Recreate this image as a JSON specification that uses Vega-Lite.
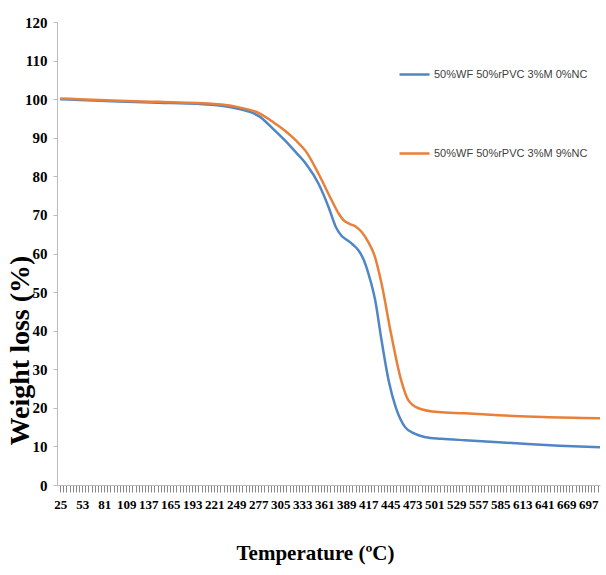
{
  "$schema": "https://vega.github.io/schema/vega-lite/v6.json",
  "width": 543,
  "height": 463,
  "autosize": {"type": "none"},
  "padding": {"left": 57, "top": 22, "right": 6, "bottom": 90},
  "background": "white",
  "config": {"view": {"stroke": null}},
  "data": {"values": [
    {"t": 25, "w": 100, "s": "50%WF 50%rPVC 3%M 0%NC"},
    {"t": 50, "w": 99.8, "s": "50%WF 50%rPVC 3%M 0%NC"},
    {"t": 100, "w": 99.4, "s": "50%WF 50%rPVC 3%M 0%NC"},
    {"t": 150, "w": 99.1, "s": "50%WF 50%rPVC 3%M 0%NC"},
    {"t": 200, "w": 98.8, "s": "50%WF 50%rPVC 3%M 0%NC"},
    {"t": 230, "w": 98.3, "s": "50%WF 50%rPVC 3%M 0%NC"},
    {"t": 250, "w": 97.6, "s": "50%WF 50%rPVC 3%M 0%NC"},
    {"t": 265, "w": 96.8, "s": "50%WF 50%rPVC 3%M 0%NC"},
    {"t": 278, "w": 95.6, "s": "50%WF 50%rPVC 3%M 0%NC"},
    {"t": 295, "w": 92.5, "s": "50%WF 50%rPVC 3%M 0%NC"},
    {"t": 312, "w": 89.1, "s": "50%WF 50%rPVC 3%M 0%NC"},
    {"t": 325, "w": 86.2, "s": "50%WF 50%rPVC 3%M 0%NC"},
    {"t": 338, "w": 83.2, "s": "50%WF 50%rPVC 3%M 0%NC"},
    {"t": 354, "w": 78, "s": "50%WF 50%rPVC 3%M 0%NC"},
    {"t": 367, "w": 71.8, "s": "50%WF 50%rPVC 3%M 0%NC"},
    {"t": 376, "w": 66.8, "s": "50%WF 50%rPVC 3%M 0%NC"},
    {"t": 383, "w": 64.6, "s": "50%WF 50%rPVC 3%M 0%NC"},
    {"t": 390, "w": 63.5, "s": "50%WF 50%rPVC 3%M 0%NC"},
    {"t": 397, "w": 62.4, "s": "50%WF 50%rPVC 3%M 0%NC"},
    {"t": 405, "w": 60.7, "s": "50%WF 50%rPVC 3%M 0%NC"},
    {"t": 411, "w": 58.5, "s": "50%WF 50%rPVC 3%M 0%NC"},
    {"t": 417, "w": 55, "s": "50%WF 50%rPVC 3%M 0%NC"},
    {"t": 426, "w": 47.8, "s": "50%WF 50%rPVC 3%M 0%NC"},
    {"t": 434, "w": 37.5, "s": "50%WF 50%rPVC 3%M 0%NC"},
    {"t": 443, "w": 27.1, "s": "50%WF 50%rPVC 3%M 0%NC"},
    {"t": 452, "w": 20.2, "s": "50%WF 50%rPVC 3%M 0%NC"},
    {"t": 464, "w": 15, "s": "50%WF 50%rPVC 3%M 0%NC"},
    {"t": 476, "w": 13.3, "s": "50%WF 50%rPVC 3%M 0%NC"},
    {"t": 490, "w": 12.4, "s": "50%WF 50%rPVC 3%M 0%NC"},
    {"t": 510, "w": 12, "s": "50%WF 50%rPVC 3%M 0%NC"},
    {"t": 540, "w": 11.6, "s": "50%WF 50%rPVC 3%M 0%NC"},
    {"t": 583, "w": 11.1, "s": "50%WF 50%rPVC 3%M 0%NC"},
    {"t": 620, "w": 10.6, "s": "50%WF 50%rPVC 3%M 0%NC"},
    {"t": 660, "w": 10.2, "s": "50%WF 50%rPVC 3%M 0%NC"},
    {"t": 712, "w": 9.8, "s": "50%WF 50%rPVC 3%M 0%NC"},
    {"t": 25, "w": 100.2, "s": "50%WF 50%rPVC 3%M 9%NC"},
    {"t": 50, "w": 100, "s": "50%WF 50%rPVC 3%M 9%NC"},
    {"t": 100, "w": 99.6, "s": "50%WF 50%rPVC 3%M 9%NC"},
    {"t": 150, "w": 99.3, "s": "50%WF 50%rPVC 3%M 9%NC"},
    {"t": 200, "w": 99, "s": "50%WF 50%rPVC 3%M 9%NC"},
    {"t": 230, "w": 98.6, "s": "50%WF 50%rPVC 3%M 9%NC"},
    {"t": 250, "w": 98, "s": "50%WF 50%rPVC 3%M 9%NC"},
    {"t": 265, "w": 97.3, "s": "50%WF 50%rPVC 3%M 9%NC"},
    {"t": 278, "w": 96.4, "s": "50%WF 50%rPVC 3%M 9%NC"},
    {"t": 295, "w": 94.2, "s": "50%WF 50%rPVC 3%M 9%NC"},
    {"t": 312, "w": 91.7, "s": "50%WF 50%rPVC 3%M 9%NC"},
    {"t": 325, "w": 89.3, "s": "50%WF 50%rPVC 3%M 9%NC"},
    {"t": 338, "w": 86.4, "s": "50%WF 50%rPVC 3%M 9%NC"},
    {"t": 354, "w": 80.6, "s": "50%WF 50%rPVC 3%M 9%NC"},
    {"t": 371, "w": 73.6, "s": "50%WF 50%rPVC 3%M 9%NC"},
    {"t": 379, "w": 70.5, "s": "50%WF 50%rPVC 3%M 9%NC"},
    {"t": 385, "w": 68.8, "s": "50%WF 50%rPVC 3%M 9%NC"},
    {"t": 393, "w": 67.7, "s": "50%WF 50%rPVC 3%M 9%NC"},
    {"t": 401, "w": 67, "s": "50%WF 50%rPVC 3%M 9%NC"},
    {"t": 409, "w": 65.5, "s": "50%WF 50%rPVC 3%M 9%NC"},
    {"t": 417, "w": 63, "s": "50%WF 50%rPVC 3%M 9%NC"},
    {"t": 425, "w": 59.5, "s": "50%WF 50%rPVC 3%M 9%NC"},
    {"t": 434, "w": 52.2, "s": "50%WF 50%rPVC 3%M 9%NC"},
    {"t": 446, "w": 39.3, "s": "50%WF 50%rPVC 3%M 9%NC"},
    {"t": 459, "w": 27.1, "s": "50%WF 50%rPVC 3%M 9%NC"},
    {"t": 468, "w": 22, "s": "50%WF 50%rPVC 3%M 9%NC"},
    {"t": 481, "w": 19.9, "s": "50%WF 50%rPVC 3%M 9%NC"},
    {"t": 506, "w": 18.9, "s": "50%WF 50%rPVC 3%M 9%NC"},
    {"t": 540, "w": 18.6, "s": "50%WF 50%rPVC 3%M 9%NC"},
    {"t": 583, "w": 18.1, "s": "50%WF 50%rPVC 3%M 9%NC"},
    {"t": 640, "w": 17.6, "s": "50%WF 50%rPVC 3%M 9%NC"},
    {"t": 712, "w": 17.3, "s": "50%WF 50%rPVC 3%M 9%NC"}
  ]},
  "mark": {"type": "line", "interpolate": "monotone", "strokeWidth": 2.5},
  "encoding": {
    "x": {
      "field": "t", "type": "quantitative",
      "scale": {"domain": [21, 712], "nice": false, "zero": false},
      "axis": {
        "title": "Temperature (ºC)",
        "titleFont": "Liberation Serif", "titleFontSize": 21, "titleFontWeight": "bold", "titleColor": "#000",
        "titleX": 258, "titleY": 68, "titleBaseline": "middle",
        "values": [25,29,33,37,41,45,49,53,57,61,65,69,73,77,81,85,89,93,97,101,105,109,113,117,121,125,129,133,137,141,145,149,153,157,161,165,169,173,177,181,185,189,193,197,201,205,209,213,217,221,225,229,233,237,241,245,249,253,257,261,265,269,273,277,281,285,289,293,297,301,305,309,313,317,321,325,329,333,337,341,345,349,353,357,361,365,369,373,377,381,385,389,393,397,401,405,409,413,417,421,425,429,433,437,441,445,449,453,457,461,465,469,473,477,481,485,489,493,497,501,505,509,513,517,521,525,529,533,537,541,545,549,553,557,561,565,569,573,577,581,585,589,593,597,601,605,609,613,617,621,625,629,633,637,641,645,649,653,657,661,665,669,673,677,681,685,689,693,697,701,705,709],
        "labelExpr": "(datum.value - 25) % 28 == 0 ? datum.label : ''",
        "format": "d",
        "labelOverlap": false, "labelFlush": false,
        "labelFont": "Liberation Serif", "labelFontSize": 13, "labelFontWeight": "bold", "labelColor": "#000",
        "labelPadding": 6,
        "tickSize": 7, "tickColor": "#888", "tickWidth": 1,
        "domainColor": "#bbb", "grid": false
      }
    },
    "y": {
      "field": "w", "type": "quantitative",
      "scale": {"domain": [0, 120], "nice": false},
      "axis": {
        "title": "Weight loss (%)",
        "titleFont": "Liberation Serif", "titleFontSize": 28, "titleFontWeight": "bold", "titleColor": "#000",
        "titleX": -37, "titleY": 328, "titleAngle": 270, "titleAlign": "center", "titleBaseline": "middle",
        "values": [0,10,20,30,40,50,60,70,80,90,100,110,120],
        "labelFont": "Liberation Serif", "labelFontSize": 15, "labelFontWeight": "bold", "labelColor": "#000",
        "labelPadding": 6,
        "tickSize": 4, "tickColor": "#bbb", "domainColor": "#bbb", "grid": false
      }
    },
    "color": {
      "field": "s", "type": "nominal",
      "scale": {"domain": ["50%WF 50%rPVC 3%M 0%NC", "50%WF 50%rPVC 3%M 9%NC"], "range": ["#4F86C6", "#E8803A"]},
      "legend": {
        "title": null, "orient": "none", "legendX": 341, "legendY": 36,
        "symbolType": "stroke", "symbolSize": 900, "symbolStrokeWidth": 2.5,
        "labelFont": "Liberation Sans", "labelFontSize": 11, "labelColor": "#404040",
        "labelLimit": 0, "labelOffset": 3, "rowPadding": 57
      }
    }
  }
}
